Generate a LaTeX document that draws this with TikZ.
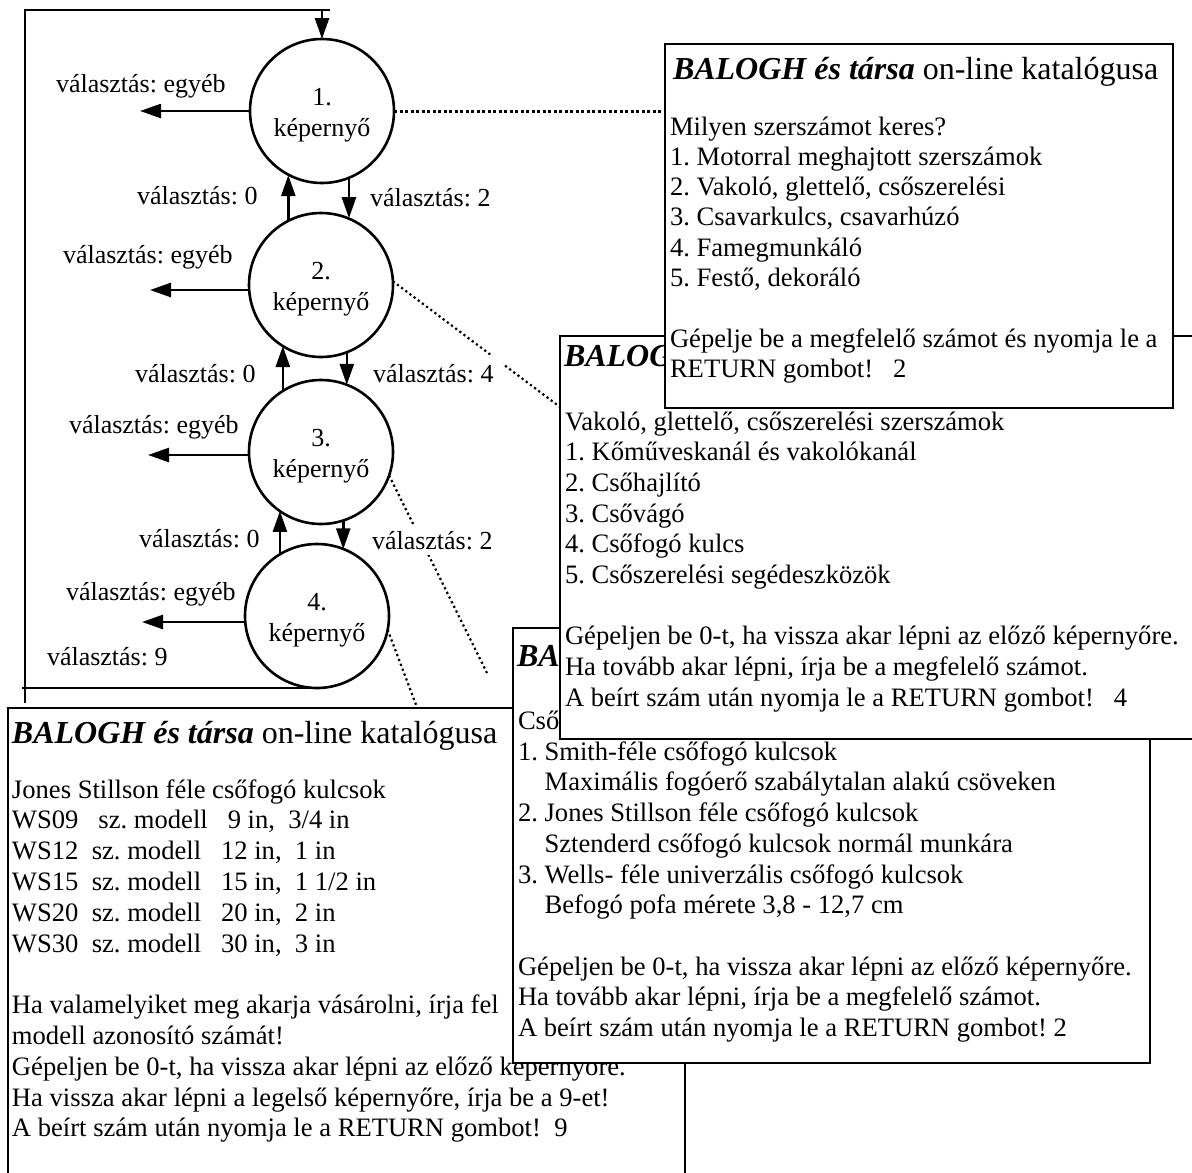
\documentclass[tikz,border=0pt]{standalone}
\usepackage{fontspec}
\setmainfont{Liberation Serif}
\usetikzlibrary{arrows.meta}

\tikzset{
  every node/.style={inner sep=0pt, outer sep=0pt},
  state/.style={circle, draw, line width=2.6pt, minimum size=144pt, align=center,
                font=\fontsize{26}{31}\selectfont},
  lbl/.style={anchor=base west, font=\fontsize{26}{31}\selectfont, fill=white, inner sep=6pt},
  flow/.style={line width=2.6pt, -{Triangle[length=21pt,width=14pt]}},
  link/.style={line width=2.6pt},
  panel/.style={draw, line width=2.6pt, fill=white, anchor=north west},
  ttl/.style={anchor=base west, font=\fontsize{32}{38}\selectfont},
  row/.style={anchor=base west, font=\fontsize{26.6}{31}\selectfont},
  dots/.style={line width=2.2pt, dash pattern=on 2.2pt off 3pt},
  heavydots/.style={line width=3pt, dash pattern=on 3pt off 2.5pt},
}
\newcommand{\brand}{\textbf{\textit{BALOGH és társa}} on-line katalógusa}
\newcommand{\lift}{\rule{0pt}{26pt}}

\begin{document}
\frenchspacing
\begin{tikzpicture}[x=1pt,y=-1pt]
  \useasboundingbox (0,0) rectangle (1192,1173);
  \fill[white] (0,0) rectangle (1192,1173);
  \clip (0,0) rectangle (1192,1173);

  % screen states
  \node[state] (n1) at (322,111) {\lift1.\\képernyő};
  \node[state] (n2) at (321,285) {\lift2.\\képernyő};
  \node[state] (n3) at (321,452) {\lift3.\\képernyő};
  \node[state] (n4) at (317,616) {\lift4.\\képernyő};

  % dotted links from states to their screens
  \coordinate (d1) at (665,111);
  \coordinate (d2) at (560,407);
  \coordinate (d3) at (487,673);
  \coordinate (d4) at (418,710);
  \draw[heavydots] (n1.east) -- (d1);
  \draw[dots] (n2.3) -- (d2);
  \draw[dots] (n3.-19) -- (d3);
  \draw[dots] (n4.-11) -- (d4);

  % transitions between states
  \draw[flow] (n2.117) -- (n2.117 |- n1.-117);
  \draw[flow] (n1.-68) -- (n1.-68 |- n2.68);
  \draw[flow] (n3.122) -- (n3.122 |- n2.-122);
  \draw[flow] (n2.-69) -- (n2.-69 |- n3.69);
  \draw[flow] (n4.121) -- (n4.121 |- n3.-125);
  \draw[flow] (n3.-72) -- (n3.-72 |- n4.68);

  % exits for any other choice
  \coordinate (e1) at (140,111);
  \coordinate (e2) at (150,290);
  \coordinate (e3) at (148,455);
  \coordinate (e4) at (142,622);
  \draw[flow] (n1.west) -- (e1);
  \draw[flow] (n2.west |- e2) -- (e2);
  \draw[flow] (n3.west |- e3) -- (e3);
  \draw[flow] (n4.west |- e4) -- (e4);

  % return to the first screen
  \coordinate (lb) at (22,688);
  \coordinate (lt) at (25,703);
  \coordinate (tl) at (25,10);
  \coordinate (tr) at (330,10);
  \draw[link] (n4.south) -- (lb);
  \draw[link] (lt) -- (tl) -- (tr);
  \draw[flow] (n1.north |- tl) -- (n1.north);

  % choice labels
  \node[lbl] (l1) at (50,92)  {választás: egyéb};
  \node[lbl] (l2) at (131,204) {választás: 0};
  \node[lbl] (l3) at (364,206) {választás: 2};
  \node[lbl] (l4) at (57,263) {választás: egyéb};
  \node[lbl] (l5) at (129,382) {választás: 0};
  \node[lbl, inner sep=9pt] (l6) at (364,382) {választás: 4};
  \node[lbl] (l7) at (63,433) {választás: egyéb};
  \node[lbl] (l8) at (133,547) {választás: 0};
  \node[lbl] (l9) at (366,549) {választás: 2};
  \node[lbl] (l10) at (60,600) {választás: egyéb};
  \node[lbl] (l11) at (41,665) {választás: 9};

  % screen 4
  \node[panel, minimum width=677pt, minimum height=480pt] (b4) at (8,708) {};
  \node[ttl] (t4) at (12,743) {\brand};
  \foreach \txt [count=\i from 0] in {
    {Jones Stillson féle csőfogó kulcsok},
    {WS09~~~sz. modell~~~9 in,~~3/4 in},
    {WS12~~sz. modell~~~12 in,~~1 in},
    {WS15~~sz. modell~~~15 in,~~1 1/2 in},
    {WS20~~sz. modell~~~20 in,~~2 in},
    {WS30~~sz. modell~~~30 in,~~3 in},
    {},
    {Ha valamelyiket meg akarja vásárolni, írja fel},
    {modell azonosító számát!},
    {Gépeljen be 0-t, ha vissza akar lépni az előző képernyőre.},
    {Ha vissza akar lépni a legelső képernyőre, írja be a 9-et!},
    {A beírt szám után nyomja le a RETURN gombot!~~9}}
    \node[row] (r4\i) at (12,798+\i*30.8) {\txt};

  % screen 3, partly hidden under screen 2
  \node[panel, minimum width=637pt, minimum height=435pt] (b3) at (513,628) {};
  \node[ttl] (t3) at (517,666) {\textbf{\textit{BA}}};
  \foreach \txt [count=\i from 0] in {
    {Cső},
    {1. Smith-féle csőfogó kulcsok},
    {\phantom{1.~}Maximális fogóerő szabálytalan alakú csöveken},
    {2. Jones Stillson féle csőfogó kulcsok},
    {\phantom{2.~}Sztenderd csőfogó kulcsok normál munkára},
    {3. Wells- féle univerzális csőfogó kulcsok},
    {\phantom{3.~}Befogó pofa mérete 3,8 - 12,7 cm},
    {},
    {Gépeljen be 0-t, ha vissza akar lépni az előző képernyőre.},
    {Ha tovább akar lépni, írja be a megfelelő számot.},
    {A beírt szám után nyomja le a RETURN gombot! 2}}
    \node[row] (r3\i) at (518,729.5+\i*30.7) {\txt};

  % screen 2, partly hidden under screen 1
  \node[panel, minimum width=650pt, minimum height=403pt] (b2) at (560,336) {};
  \begin{scope}
    \clip (560,336) rectangle (665,408);
    \node[ttl] (t2) at (564,366) {\textbf{\textit{BALOG}}};
  \end{scope}
  \foreach \txt [count=\i from 0] in {
    {Vakoló, glettelő, csőszerelési szerszámok},
    {1. Kőműveskanál és vakolókanál},
    {2. Csőhajlító},
    {3. Csővágó},
    {4. Csőfogó kulcs},
    {5. Csőszerelési segédeszközök},
    {},
    {Gépeljen be 0-t, ha vissza akar lépni az előző képernyőre.},
    {Ha tovább akar lépni, írja be a megfelelő számot.},
    {A beírt szám után nyomja le a RETURN gombot!~~~4}}
    \node[row] (r2\i) at (565,430+\i*30.67) {\txt};

  % screen 1
  \node[panel, minimum width=508pt, minimum height=364pt] (b1) at (665,44) {};
  \node[ttl] (t1) at (673,79) {\brand};
  \foreach \txt [count=\i from 0] in {
    {Milyen szerszámot keres?},
    {1. Motorral meghajtott szerszámok},
    {2. Vakoló, glettelő, csőszerelési},
    {3. Csavarkulcs, csavarhúzó},
    {4. Famegmunkáló},
    {5. Festő, dekoráló},
    {},
    {Gépelje be a megfelelő számot és nyomja le a},
    {RETURN gombot!~~~2}}
    \node[row] (r1\i) at (670,135+\i*30.3) {\txt};
\end{tikzpicture}
\end{document}
